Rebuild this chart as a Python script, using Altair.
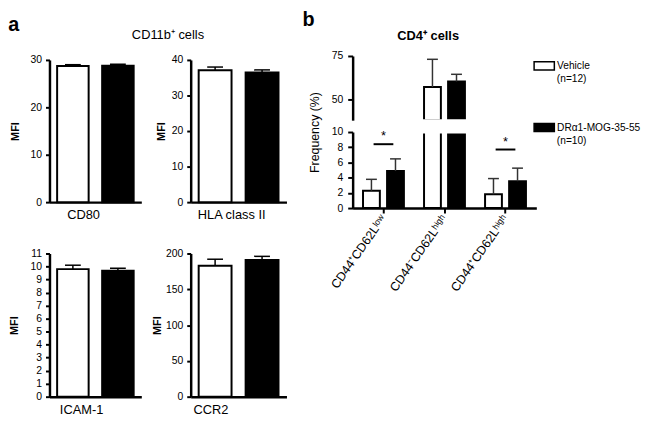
import altair as alt
import pandas as pd

FONT = "Liberation Sans"

treatments = ["Vehicle", "DRα1-MOG-35-55"]
sample_sizes = ["(n=12)", "(n=10)"]

# panel a : CD11b+ cells, MFI
cd80_mean = [28.7, 28.8]
cd80_err = [0.3, 0.3]
hla_mean = [37.1, 36.5]
hla_err = [0.9, 0.7]
icam_mean = [9.8, 9.68]
icam_err = [0.3, 0.18]
ccr2_mean = [183, 191]
ccr2_err = [9, 5]

# panel b : CD4+ cells, frequency (%)
subsets = ["CD44⁺CD62Lˡᵒʷ", "CD44⁻CD62Lʰⁱᵍʰ", "CD44⁺CD62Lʰⁱᵍʰ"]
vehicle_freq = [2.28, 57.2, 1.81]
vehicle_err = [1.5, 15.9, 2.07]
dr_freq = [4.87, 60.4, 3.53]
dr_err = [1.6, 4.1, 1.72]
sig_subsets = ["CD44⁺CD62Lˡᵒʷ", "CD44⁺CD62Lʰⁱᵍʰ"]
sig_level = [8.4, 7.7]
break_low, break_high = 10, 38.2   # y-axis break of panel b

WHITE_BLACK = alt.condition(alt.datum.treatment == "Vehicle", alt.value("white"), alt.value("black"))


def mfi_layers(mean, err, ymax, ticks, xtitle, title_x, yrange, xrange, x_axis_offset, title_pad):
    df = pd.DataFrame({
        "treatment": treatments,
        "mean": mean,
        "top": [m + e for m, e in zip(mean, err)],
    })
    xs = alt.Scale(domain=treatments, paddingInner=0.3, paddingOuter=0.17, range=xrange)
    xax = alt.Axis(orient="bottom", offset=x_axis_offset, title=xtitle, labels=False, ticks=False,
                   domainWidth=2.5, domainColor="black", titleFont=FONT, titleFontSize=13,
                   titleFontWeight="normal", titleColor="black", titlePadding=7,
                   titleX=title_x, titleAlign="center")
    ys = alt.Scale(domain=[0, ymax], nice=False, zero=True, range=yrange)
    yax = alt.Axis(orient="left", title="MFI", values=ticks, domainWidth=2.5, domainColor="black",
                   tickSize=4, tickWidth=2, tickColor="black", labelPadding=4,
                   labelFont=FONT, labelFontSize=10.5, labelColor="black",
                   titleFont=FONT, titleFontSize=11, titleFontWeight="bold", titleColor="black",
                   titlePadding=title_pad, grid=False)
    x = alt.X("treatment:N", scale=xs, axis=xax)
    base = alt.Chart(df)
    bars = base.mark_bar(stroke="black", strokeWidth=2).encode(
        x=x, y=alt.Y("mean:Q", scale=ys, axis=yax), fill=WHITE_BLACK,
    )
    errs = base.mark_rule(color="black", strokeWidth=1.5).encode(
        x=x, y=alt.Y("mean:Q", scale=ys, axis=yax), y2="top:Q"
    )
    caps = base.mark_tick(orient="horizontal", size=16, thickness=1.5, color="black", opacity=1).encode(
        x=x, y=alt.Y("top:Q", scale=ys, axis=yax)
    )
    return alt.layer(bars, errs, caps)


col1 = alt.layer(
    mfi_layers(cd80_mean, cd80_err, 30, [0, 10, 20, 30], "CD80", 34, [148, 4], [0, 93], -197, 10),
    mfi_layers(icam_mean, icam_err, 11, list(range(12)), "ICAM-1", 32, [345, 200], [0, 93], 0, 11),
).resolve_scale(x="independent", y="independent").properties(
    width=93, height=345,
    title=alt.TitleParams("a", anchor="start", frame="bounds", font=FONT, fontSize=20,
                          fontWeight="bold", color="black", offset=20),
)

col2 = alt.layer(
    mfi_layers(hla_mean, hla_err, 40, [0, 10, 20, 30, 40], "HLA class II", 41, [148, 4], [0, 97], -197, 5),
    mfi_layers(ccr2_mean, ccr2_err, 200, [0, 50, 100, 150, 200], "CCR2", 20, [345, 200], [0, 97], 0, 3),
).resolve_scale(x="independent", y="independent").properties(
    width=114, height=345,
    title=alt.TitleParams("CD11b⁺ cells", anchor="middle", frame="group", font=FONT, fontSize=13,
                          fontWeight="normal", color="black", offset=13, dx=-80),
)

# ---- panel b
rows = []
for i, s in enumerate(subsets):
    for t, n, vals, errs in ((treatments[0], sample_sizes[0], vehicle_freq, vehicle_err),
                             (treatments[1], sample_sizes[1], dr_freq, dr_err)):
        rows.append({"subset": s, "treatment": t, "n": n, "freq": vals[i], "top": vals[i] + errs[i]})
dfb = pd.DataFrame(rows)
dfsig = pd.DataFrame({"subset": sig_subsets, "level": sig_level, "star": ["*", "*"]})
top_data = dfb[dfb["subset"] == subsets[1]]
low_err_data = dfb[dfb["subset"] != subsets[1]]
mask_data = pd.DataFrame({"subset": [subsets[1]]})

bx_scale = alt.Scale(domain=subsets, paddingInner=0.33, paddingOuter=0.17)
off_scale = alt.Scale(domain=treatments, paddingInner=0.3, paddingOuter=0)
fill_scale = alt.Scale(domain=treatments, range=["white", "black"])

bx_axis = alt.Axis(orient="bottom", title=None, labelAngle=-55, labelAlign="right",
                   labelBaseline="middle", labelFont=FONT, labelFontSize=12.5, labelColor="black",
                   labelPadding=3, tickSize=5, tickWidth=2, tickColor="black", domainWidth=2.5,
                   domainColor="black")
top_x_axis = alt.Axis(orient="top", title="CD4⁺ cells", labels=False, ticks=False, domain=False,
                      titleFont=FONT, titleFontSize=13, titleFontWeight="bold", titleColor="black",
                      titlePadding=14, titleX=76, titleAlign="center")

y_common = dict(orient="left", domainWidth=2.5, domainColor="black", tickSize=5, tickWidth=2,
                tickColor="black", labelFont=FONT, labelFontSize=10.5, labelColor="black",
                labelPadding=5, grid=False)
bot_y_axis = alt.Axis(values=[0, 2, 4, 6, 8, 10], title="Frequency (%)", titleFont=FONT,
                      titleFontSize=12.5, titleFontWeight="normal", titleColor="black",
                      titlePadding=10, titleY=77, titleAlign="center", **y_common)
top_y_axis = alt.Axis(values=[50, 75], title=None, **y_common)

bot_scale = alt.Scale(domain=[0, break_low], nice=False, zero=True, clamp=True, range=[154, 77])
top_scale = alt.Scale(domain=[break_high, 75], nice=False, zero=False, range=[65, 0])

bx = alt.X("subset:N", scale=bx_scale, axis=bx_axis, sort=subsets)
bxo = alt.XOffset("treatment:N", scale=off_scale)

low_bars = alt.Chart(dfb).mark_bar(stroke="black", strokeWidth=2).encode(
    x=bx, xOffset=bxo,
    y=alt.Y("freq:Q", scale=bot_scale, axis=bot_y_axis),
    fill=alt.Fill("treatment:N", scale=fill_scale, legend=alt.Legend(
        title=None, orient="none", legendX=490, legendY=-1, padding=0,
        symbolType="M-1,-0.4H1V0.4H-1Z", symbolSize=420, symbolStrokeColor="black",
        symbolStrokeWidth=1.5, labelFont=FONT, labelFontSize=10.3, labelColor="black",
        labelOffset=2, rowPadding=43.5,
    )),
    opacity=alt.Opacity("n:N", scale=alt.Scale(domain=sample_sizes, range=[1, 1]), legend=alt.Legend(
        title=None, orient="none", legendX=503.5, legendY=18, padding=0,
        symbolType="circle", symbolSize=0, symbolStrokeWidth=0, labelFont=FONT,
        labelFontSize=10.3, labelColor="black", labelOffset=0, rowPadding=52,
    )),
)
low_err = alt.Chart(low_err_data).mark_rule(color="#333", strokeWidth=1.5).encode(
    x=bx, xOffset=bxo, y=alt.Y("freq:Q", scale=bot_scale, axis=bot_y_axis), y2="top:Q",
)
low_cap = alt.Chart(low_err_data).mark_tick(orient="horizontal", size=11, thickness=1.5,
                                            color="#333", opacity=1).encode(
    x=bx, xOffset=bxo, y=alt.Y("top:Q", scale=bot_scale, axis=bot_y_axis),
)
sig_line = alt.Chart(dfsig).mark_tick(orient="horizontal", size=20, thickness=2, color="black",
                                      opacity=1).encode(
    x=bx, y=alt.Y("level:Q", scale=bot_scale, axis=bot_y_axis),
)
sig_star = alt.Chart(dfsig).mark_text(baseline="bottom", dy=-1, font=FONT, fontSize=13,
                                      color="black").encode(
    x=bx, y=alt.Y("level:Q", scale=bot_scale, axis=bot_y_axis), text="star:N",
)
low_part = alt.layer(low_bars, low_err, low_cap, sig_line, sig_star)

tx = alt.X("subset:N", scale=bx_scale, axis=top_x_axis, sort=subsets)
high_bars = alt.Chart(top_data).mark_bar(stroke="black", strokeWidth=2).encode(
    x=tx, xOffset=bxo,
    y=alt.Y("freq:Q", scale=top_scale, axis=top_y_axis),
    y2=alt.datum(break_high),
    fill=WHITE_BLACK,
)
high_err = alt.Chart(top_data).mark_rule(color="#333", strokeWidth=1.5).encode(
    x=tx, xOffset=bxo, y=alt.Y("freq:Q", scale=top_scale, axis=top_y_axis), y2="top:Q",
)
high_cap = alt.Chart(top_data).mark_tick(orient="horizontal", size=11, thickness=1.5,
                                         color="#333", opacity=1).encode(
    x=tx, xOffset=bxo, y=alt.Y("top:Q", scale=top_scale, axis=top_y_axis),
)
# white gap of the axis break (just below 38.2 on the upper scale down past 10 on the lower one)
gap = alt.Chart(mask_data).mark_bar(fill="white", stroke=None, width=alt.RelativeBandSize(1.15)).encode(
    x=tx,
    y=alt.Y(datum=break_high + 0.6, scale=top_scale, axis=top_y_axis),
    y2=alt.datum(break_high - 7.6),
)
high_part = alt.layer(high_bars, high_err, high_cap, gap)

col3 = alt.layer(low_part, high_part).resolve_scale(x="independent", y="independent").properties(
    width=186, height=154,
    title=alt.TitleParams("b", anchor="start", frame="bounds", font=FONT, fontSize=20,
                          fontWeight="bold", color="black", offset=-1, dx=-6),
)

chart = alt.hconcat(col1, col2, col3, spacing=50, bounds="flush").properties(
    padding=0, background="white"
).configure_view(stroke=None).configure_axis(grid=False)

chart.save("out.html", embed_options={"renderer": "svg", "actions": False})
